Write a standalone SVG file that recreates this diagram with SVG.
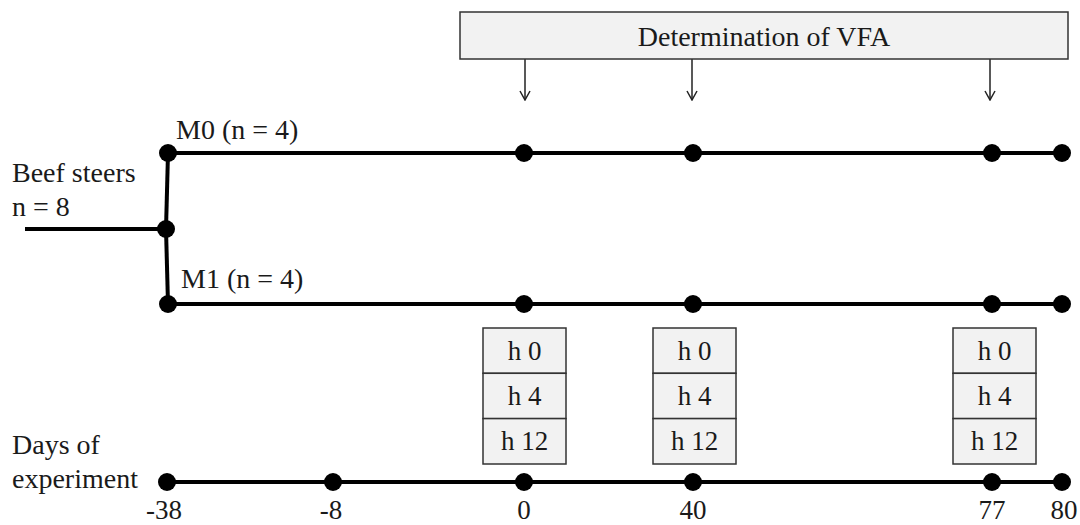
<svg xmlns="http://www.w3.org/2000/svg" width="1080" height="525" viewBox="0 0 1080 525">
<defs>
<style>
.t{font-size:28px;fill:#1a1a1a;}
.h{font-size:27px;fill:#1a1a1a;}
.c{text-anchor:middle;}
.ln{stroke:#000;stroke-width:4;fill:none;}
.ar{stroke:#222;stroke-width:1.5;fill:none;}
.box{fill:#f2f2f2;stroke:#333;stroke-width:1.5;}
.dot{fill:#000;}
</style>
<marker id="ah" viewBox="0 0 12 12" refX="11" refY="6" markerWidth="12" markerHeight="12" markerUnits="userSpaceOnUse" orient="auto">
<path d="M2,1 L11,6 L2,11" fill="none" stroke="#222" stroke-width="1.5"/>
</marker>
</defs>
<rect width="1080" height="525" fill="#fff"/>
<g id="connectors">
<line class="ln" x1="25" y1="229" x2="166" y2="229"/>
<line class="ln" x1="168" y1="153" x2="166" y2="229"/>
<line class="ln" x1="166" y1="229" x2="168" y2="304"/>
<line class="ln" x1="168" y1="153" x2="1062" y2="153"/>
<line class="ln" x1="168" y1="304" x2="1062" y2="304"/>
<line class="ln" x1="168" y1="482" x2="1062" y2="482"/>
<line class="ar" x1="525" y1="59" x2="525" y2="100" marker-end="url(#ah)"/>
<line class="ar" x1="692" y1="59" x2="692" y2="100" marker-end="url(#ah)"/>
<line class="ar" x1="990" y1="59" x2="990" y2="100" marker-end="url(#ah)"/>
</g>
<g id="vfa">
<rect class="box" x="460" y="12" width="608" height="47"/>
<text class="t c" x="764" y="46" style="font-family:'Liberation Serif',serif">Determination of VFA</text>
</g>
<g id="beef-steers">
<text class="t" x="12" y="182" style="font-family:'Liberation Serif',serif">Beef steers</text>
<text class="t" x="12" y="216" style="font-family:'Liberation Serif',serif">n = 8</text>
<circle class="dot" cx="166" cy="229" r="9"/>
</g>
<g id="m0">
<text class="t" x="176" y="139" style="font-family:'Liberation Serif',serif">M0 (n = 4)</text>
<circle class="dot" cx="168" cy="153" r="9"/>
<circle class="dot" cx="524" cy="153" r="9"/>
<circle class="dot" cx="693" cy="153" r="9"/>
<circle class="dot" cx="992" cy="153" r="9"/>
<circle class="dot" cx="1062" cy="153" r="9"/>
</g>
<g id="m1">
<text class="t" x="181" y="288" style="font-family:'Liberation Serif',serif">M1 (n = 4)</text>
<circle class="dot" cx="168" cy="304" r="9"/>
<circle class="dot" cx="524" cy="304" r="9"/>
<circle class="dot" cx="693" cy="304" r="9"/>
<circle class="dot" cx="992" cy="304" r="9"/>
<circle class="dot" cx="1062" cy="304" r="9"/>
</g>
<g id="hours-0">
<rect class="box" x="483" y="328" width="83" height="45.3"/>
<rect class="box" x="483" y="373.3" width="83" height="45.3"/>
<rect class="box" x="483" y="418.6" width="83" height="45.4"/>
<text class="h c" x="524.5" y="360" style="font-family:'Liberation Serif',serif">h 0</text>
<text class="h c" x="524.5" y="405" style="font-family:'Liberation Serif',serif">h 4</text>
<text class="h c" x="524.5" y="450" style="font-family:'Liberation Serif',serif">h 12</text>
</g>
<g id="hours-40">
<rect class="box" x="653" y="328" width="83" height="45.3"/>
<rect class="box" x="653" y="373.3" width="83" height="45.3"/>
<rect class="box" x="653" y="418.6" width="83" height="45.4"/>
<text class="h c" x="694.5" y="360" style="font-family:'Liberation Serif',serif">h 0</text>
<text class="h c" x="694.5" y="405" style="font-family:'Liberation Serif',serif">h 4</text>
<text class="h c" x="694.5" y="450" style="font-family:'Liberation Serif',serif">h 12</text>
</g>
<g id="hours-77">
<rect class="box" x="953" y="328" width="83" height="45.3"/>
<rect class="box" x="953" y="373.3" width="83" height="45.3"/>
<rect class="box" x="953" y="418.6" width="83" height="45.4"/>
<text class="h c" x="994.5" y="360" style="font-family:'Liberation Serif',serif">h 0</text>
<text class="h c" x="994.5" y="405" style="font-family:'Liberation Serif',serif">h 4</text>
<text class="h c" x="994.5" y="450" style="font-family:'Liberation Serif',serif">h 12</text>
</g>
<g id="days">
<text class="t" x="12" y="454" style="font-family:'Liberation Serif',serif">Days of</text>
<text class="t" x="12" y="488" style="font-family:'Liberation Serif',serif">experiment</text>
<circle class="dot" cx="167" cy="482" r="9"/>
<circle class="dot" cx="333" cy="482" r="9"/>
<circle class="dot" cx="524" cy="482" r="9"/>
<circle class="dot" cx="693" cy="482" r="9"/>
<circle class="dot" cx="992" cy="482" r="9"/>
<circle class="dot" cx="1062" cy="482" r="9"/>
<text class="h c" x="164" y="519" style="font-family:'Liberation Serif',serif">-38</text>
<text class="h c" x="331" y="519" style="font-family:'Liberation Serif',serif">-8</text>
<text class="h c" x="524" y="519" style="font-family:'Liberation Serif',serif">0</text>
<text class="h c" x="693" y="519" style="font-family:'Liberation Serif',serif">40</text>
<text class="h c" x="992" y="519" style="font-family:'Liberation Serif',serif">77</text>
<text class="h c" x="1064" y="519" style="font-family:'Liberation Serif',serif">80</text>
</g>
</svg>
